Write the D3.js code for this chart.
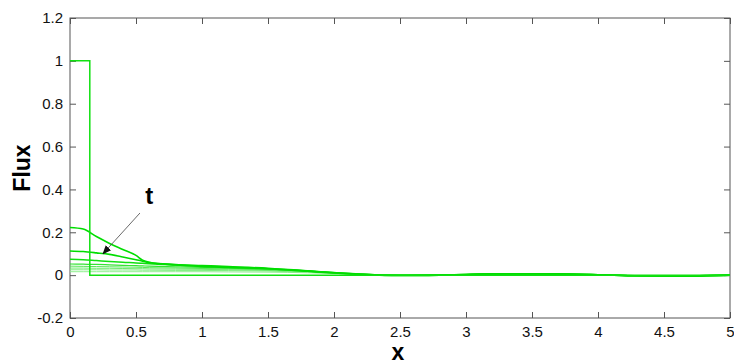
<!DOCTYPE html>
<html>
<head>
<meta charset="utf-8">
<script src="https://cdn.jsdelivr.net/npm/d3@7"></script>
<style>
  body { margin: 0; background: #fff; }
  svg { font-family: "Liberation Sans", Arial, sans-serif; }
</style>
</head>
<body>
<div id="chart"></div>
<script>
// x positions shared by all time curves
var xGrid = [0, 0.1, 0.2, 0.3, 0.4, 0.5, 0.55, 0.6, 0.8, 1, 1.2, 1.5, 1.8, 2, 2.2, 2.5, 2.8, 3, 3.3, 3.6, 4, 4.3, 4.6, 5];

// initial step profile
var stepX = [0, 0.15, 0.15, 5];
var stepY = [1, 1, 0, 0];

// flux at successive times (t increasing)
var fluxT1 = [0.222, 0.215, 0.18, 0.148, 0.12, 0.092, 0.07, 0.06, 0.047, 0.04, 0.036, 0.03, 0.018, 0.01, 0.003, -0.002, 0, 0.003, 0.006, 0.006, 0.002, -0.003, -0.004, 0];
var fluxT2 = [0.113, 0.11, 0.104, 0.097, 0.085, 0.072, 0.065, 0.059, 0.05, 0.045, 0.04, 0.032, 0.02, 0.011, 0.004, -0.002, 0, 0.003, 0.006, 0.006, 0.002, -0.003, -0.004, 0];
var fluxT3 = [0.074, 0.072, 0.068, 0.064, 0.06, 0.057, 0.055, 0.053, 0.047, 0.042, 0.038, 0.03, 0.02, 0.012, 0.005, -0.001, 0, 0.003, 0.006, 0.006, 0.002, -0.003, -0.004, 0];
var fluxT4 = [0.052, 0.051, 0.05, 0.048, 0.046, 0.044, 0.043, 0.042, 0.039, 0.036, 0.033, 0.028, 0.019, 0.012, 0.005, -0.001, 0, 0.003, 0.005, 0.005, 0.002, -0.003, -0.004, 0];
var fluxT5 = [0.042, 0.041, 0.04, 0.039, 0.038, 0.037, 0.036, 0.035, 0.033, 0.031, 0.029, 0.025, 0.018, 0.011, 0.005, -0.001, 0, 0.003, 0.005, 0.005, 0.002, -0.002, -0.003, 0];
var fluxT6 = [0.033, 0.033, 0.032, 0.032, 0.031, 0.03, 0.03, 0.029, 0.028, 0.027, 0.025, 0.022, 0.016, 0.01, 0.005, 0, 0, 0.003, 0.005, 0.005, 0.002, -0.002, -0.003, 0];
var fluxT7 = [0.025, 0.025, 0.025, 0.024, 0.024, 0.024, 0.023, 0.023, 0.022, 0.022, 0.021, 0.019, 0.014, 0.009, 0.004, 0, 0, 0.003, 0.004, 0.004, 0.002, -0.002, -0.003, 0];
var fluxT8 = [0.016, 0.016, 0.016, 0.016, 0.016, 0.016, 0.016, 0.016, 0.016, 0.016, 0.015, 0.014, 0.011, 0.007, 0.003, 0, 0, 0.002, 0.004, 0.004, 0.002, -0.002, -0.002, 0];

var xTicks = [0, 0.5, 1, 1.5, 2, 2.5, 3, 3.5, 4, 4.5, 5];
var yTicks = [-0.2, 0, 0.2, 0.4, 0.6, 0.8, 1, 1.2];

var margin = {top: 18, right: 4, bottom: 46, left: 70};
var W = 734, H = 364;
var width = W - margin.left - margin.right;
var height = H - margin.top - margin.bottom;

var svg = d3.select("#chart").append("svg")
    .attr("width", W)
    .attr("height", H)
  .append("g")
    .attr("transform", "translate(" + margin.left + "," + margin.top + ")");

var x = d3.scaleLinear().domain([0, 5]).range([0, width]);
var y = d3.scaleLinear().domain([-0.2, 1.2]).range([height, 0]);

// axes box
svg.append("rect")
  .attr("width", width).attr("height", height)
  .attr("fill", "none").attr("stroke", "#555").attr("stroke-width", 1);

// ticks inside, MATLAB style
svg.append("g")
  .attr("transform", "translate(0," + height + ")")
  .call(d3.axisBottom(x).tickValues(xTicks).tickSize(-6).tickPadding(8)
    .tickFormat(function(d) { return d; }));
svg.append("g")
  .call(d3.axisLeft(y).tickValues(yTicks).tickSize(-6).tickPadding(7)
    .tickFormat(function(d) { return d; }));
svg.append("g")
  .call(d3.axisTop(x).tickValues(xTicks).tickSize(-6).tickFormat(""));
svg.append("g")
  .attr("transform", "translate(" + width + ",0)")
  .call(d3.axisRight(y).tickValues(yTicks).tickSize(-6).tickFormat(""));

svg.selectAll(".domain").remove();
svg.selectAll(".tick line").attr("stroke", "#555");
svg.selectAll(".tick text").attr("fill", "#111").style("font-size", "15px")
  .style("font-family", "'Liberation Sans', Arial, sans-serif");

// curves
var line = d3.line()
  .x(function(d) { return x(d[0]); })
  .y(function(d) { return y(d[1]); })
  .curve(d3.curveMonotoneX);

var series = [
  {v: fluxT8, c: "#8ef08e", w: 1},
  {v: fluxT7, c: "#7eee7e", w: 1},
  {v: fluxT6, c: "#6aea6a", w: 1},
  {v: fluxT5, c: "#55e855", w: 1},
  {v: fluxT4, c: "#33e333", w: 1.2},
  {v: fluxT3, c: "#11e011", w: 1.5},
  {v: fluxT2, c: "#00dd00", w: 1.6},
  {v: fluxT1, c: "#00dd00", w: 1.6}
];

series.forEach(function(s) {
  svg.append("path")
    .datum(xGrid.map(function(xv, i) { return [xv, s.v[i]]; }))
    .attr("d", line)
    .attr("fill", "none")
    .attr("stroke", s.c)
    .attr("stroke-width", s.w);
});

svg.append("path")
  .datum(stepX.map(function(xv, i) { return [xv, stepY[i]]; }))
  .attr("d", d3.line().x(function(d) { return x(d[0]); }).y(function(d) { return y(d[1]); }))
  .attr("fill", "none")
  .attr("stroke", "#11e011")
  .attr("stroke-width", 1.5);

// annotation arrow
svg.append("defs").append("marker")
  .attr("id", "arr")
  .attr("viewBox", "0 0 10 10")
  .attr("refX", 9).attr("refY", 5)
  .attr("markerWidth", 9).attr("markerHeight", 9)
  .attr("markerUnits", "userSpaceOnUse")
  .attr("orient", "auto")
  .append("path").attr("d", "M0,1 L10,5 L0,9 Z").attr("fill", "#111");

svg.append("line")
  .attr("x1", x(0.53)).attr("y1", y(0.29))
  .attr("x2", x(0.25)).attr("y2", y(0.10))
  .attr("stroke", "#444").attr("stroke-width", 0.8)
  .attr("marker-end", "url(#arr)");

svg.append("text")
  .attr("x", x(0.6)).attr("y", y(0.33))
  .attr("text-anchor", "middle")
  .style("font-size", "24px").style("font-weight", "bold")
  .text("t");

// axis labels
svg.append("text")
  .attr("x", width / 2 - 2).attr("y", height + 42)
  .attr("text-anchor", "middle")
  .style("font-size", "23px").style("font-weight", "bold")
  .text("x");

svg.append("text")
  .attr("transform", "translate(-40," + (height / 2) + ") rotate(-90)")
  .attr("text-anchor", "middle")
  .style("font-size", "23px").style("font-weight", "bold")
  .text("Flux");
</script>
</body>
</html>
